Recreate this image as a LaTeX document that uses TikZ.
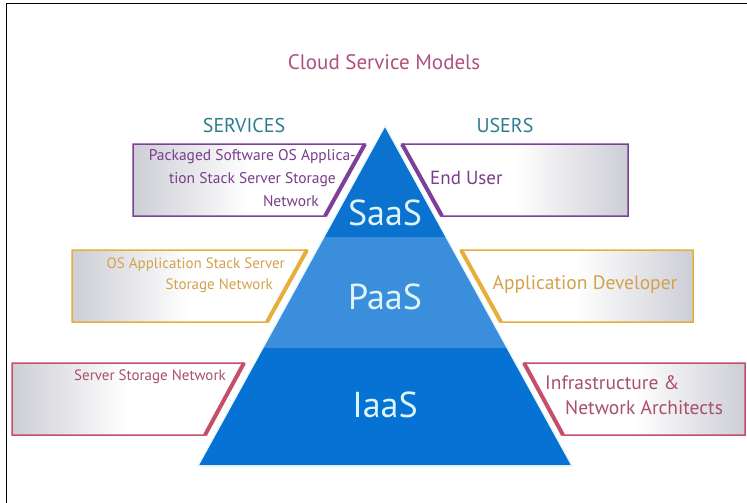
\documentclass[tikz,border=0pt]{standalone}
\usepackage{fontspec}
\setmainfont{PT Sans}
\usetikzlibrary{positioning, calc}

\definecolor{pyrTop}{HTML}{0B72CF}
\definecolor{pyrMid}{HTML}{3A8EDC}
\definecolor{pyrLow}{HTML}{0673D4}
\definecolor{pyrGlow}{HTML}{DDF3F8}
\definecolor{lblLight}{HTML}{DDF5F8}
\definecolor{purpleLine}{HTML}{7D3F98}
\definecolor{purpleText}{HTML}{7A3D8C}
\definecolor{goldLine}{HTML}{E6AE3C}
\definecolor{goldText}{HTML}{D3A24C}
\definecolor{roseLine}{HTML}{C54F6B}
\definecolor{roseText}{HTML}{A8506C}
\definecolor{titleRose}{HTML}{B0507E}
\definecolor{headTeal}{HTML}{2D7D8E}
\definecolor{boxGray}{HTML}{CDCED5}

\begin{document}
\begin{tikzpicture}[x=1pt, y=-1pt,
    boxline/.style={line width=1.5pt, line join=miter},
    slantline/.style={line width=4pt},
    svcfill/.style={left color=boxGray, right color=white, middle color=white},
    usrfill/.style={left color=white, right color=boxGray, middle color=white},
    layerlbl/.style={font=\fontsize{36}{40}\selectfont, text=lblLight},
    boxtxt/.style={font=\fontsize{15.5}{18}\selectfont, inner sep=0pt}]
    \useasboundingbox (0,0) rectangle (747,503);

    % --- Frame ---
    \draw[line width=1pt] (6,503) -- (6,4) -- (747,4);

    % --- Title and Headings ---
    \node[font=\fontsize{21}{24}\selectfont, text=titleRose] (title) at (384,62) {Cloud Service Models};
    \node[font=\fontsize{20}{22}\selectfont, text=headTeal] (services) at (244,125) {SERVICES};
    \node[font=\fontsize{20}{22}\selectfont, text=headTeal] (users) at (505,125) {USERS};

    % --- Pyramid ---
    \fill[pyrTop] (385,127) -- (445.5,237) -- (324.5,237) -- cycle;
    \fill[pyrMid] (324.5,237) -- (445.5,237) -- (506.6,348) -- (263.4,348) -- cycle;
    \fill[pyrLow] (263.4,348) -- (506.6,348) -- (571,465) -- (199,465) -- cycle;
    \draw[pyrGlow, line width=1pt] (385,126) -- (572,466) -- (198,466) -- cycle;
    \node[layerlbl] (saas) at (385,213) {SaaS};
    \node[layerlbl] (paas) at (385,297) {PaaS};
    \node[layerlbl] (iaas) at (385,405) {IaaS};

    % --- SaaS boxes ---
    % Services side
    \shade[svcfill] (133,144) -- (365,144) -- (325,216) -- (133,216) -- cycle;
    \draw[boxline, purpleLine] (133,144) -- (365,144) -- (325,216) -- (133,216) -- cycle;
    \draw[slantline, purpleLine] (365,144) -- (325,216);
    \node[boxtxt, text=purpleText, anchor=east] (saasSvc1) at (356,157) {Packaged Software OS Applica-};
    \node[boxtxt, text=purpleText, anchor=east] (saasSvc2) at (336,180) {tion Stack Server Storage};
    \node[boxtxt, text=purpleText, anchor=east] (saasSvc3) at (319,201) {Network};
    % Users side
    \shade[usrfill] (402,144) -- (628,144) -- (628,216) -- (442,216) -- cycle;
    \draw[boxline, purpleLine] (402,144) -- (628,144) -- (628,216) -- (442,216) -- cycle;
    \draw[slantline, purpleLine] (402,144) -- (442,216);
    \node[font=\fontsize{19}{22}\selectfont, inner sep=0pt, text=purpleText, anchor=west] (saasUsr) at (430,178) {End User};

    % --- PaaS boxes ---
    % Services side
    \shade[svcfill] (72,250) -- (307,250) -- (267,322) -- (72,322) -- cycle;
    \draw[boxline, goldLine] (72,250) -- (307,250) -- (267,322) -- (72,322) -- cycle;
    \draw[slantline, goldLine] (307,250) -- (267,322);
    \node[boxtxt, font=\fontsize{15}{18}\selectfont, text=goldText, anchor=east] (paasSvc1) at (285,265) {OS Application Stack Server};
    \node[boxtxt, font=\fontsize{15}{18}\selectfont, text=goldText, anchor=east] (paasSvc2) at (273,286) {Storage Network};
    % Users side
    \shade[usrfill] (461,250) -- (693,250) -- (693,322) -- (501,322) -- cycle;
    \draw[boxline, goldLine] (461,250) -- (693,250) -- (693,322) -- (501,322) -- cycle;
    \draw[slantline, goldLine] (461,250) -- (501,322);
    \node[font=\fontsize{19.5}{22}\selectfont, inner sep=0pt, text=goldText] (paasUsr) at (585,285) {Application Developer};

    % --- IaaS boxes ---
    % Services side
    \shade[svcfill] (12,363) -- (244,363) -- (205,435) -- (12,435) -- cycle;
    \draw[boxline, roseLine] (12,363) -- (244,363) -- (205,435) -- (12,435) -- cycle;
    \draw[slantline, roseLine] (244,363) -- (205,435);
    \node[boxtxt, font=\fontsize{15}{18}\selectfont, text=roseText, anchor=east] (iaasSvc) at (226,377) {Server Storage Network};
    % Users side
    \shade[usrfill] (524,363) -- (745,363) -- (745,435) -- (563,435) -- cycle;
    \draw[boxline, roseLine] (524,363) -- (745,363) -- (745,435) -- (563,435) -- cycle;
    \draw[slantline, roseLine] (524,363) -- (563,435);
    \node[font=\fontsize{19.5}{22}\selectfont, inner sep=0pt, text=roseText, anchor=west] (iaasUsr1) at (545,383) {Infrastructure \&};
    \node[font=\fontsize{19.5}{22}\selectfont, inner sep=0pt, text=roseText, anchor=west] (iaasUsr2) at (565,408) {Network Architects};
\end{tikzpicture}
\end{document}
